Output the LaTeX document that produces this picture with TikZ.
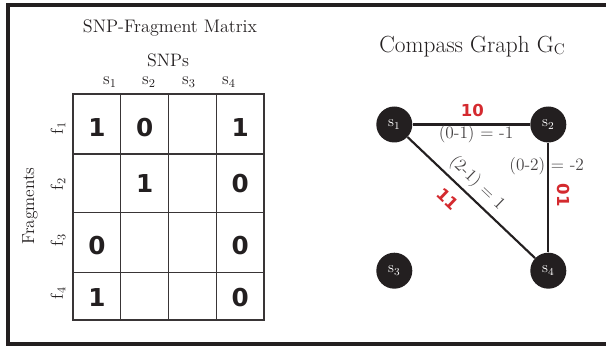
\documentclass[tikz,border=0pt]{standalone}
\usepackage{fontspec}
\newfontfamily\digitfont{DejaVu Sans}
\definecolor{ink}{HTML}{231F20}
\definecolor{labred}{HTML}{D42A2F}
\begin{document}
\begin{tikzpicture}[x=0.75pt,y=-0.75pt,
  ttl/.style={font=\fontsize{13}{15}\selectfont, text=ink, inner sep=0pt},
  bigttl/.style={font=\fontsize{17.5}{20}\selectfont, text=ink, inner sep=0pt},
  cellnum/.style={font=\digitfont\bfseries\fontsize{18.5}{20}\selectfont, text=ink, inner sep=0pt},
  vert/.style={circle, fill=ink, minimum size=36*0.75pt, inner sep=0pt, text=white, font=\fontsize{11.5}{12}\selectfont},
  link/.style={draw=ink, line width=1.6pt},
  gridline/.style={draw=ink!90, line width=1pt},
  redlab/.style={font=\digitfont\bfseries\fontsize{12.4}{14}\selectfont, text=labred, inner sep=0pt},
  wlab/.style={font=\fontsize{13}{15}\selectfont, text=ink!85, inner sep=0pt}]
\useasboundingbox (0,0) rectangle (606,349);
\clip (0,0) rectangle (606,349);
% frame
\draw[ink, line width=3pt] (8,5.5) rectangle (620,343.5);
% ---------- matrix ----------
\node[ttl, font=\fontsize{13.6}{15}\selectfont] (mtitle) at (170,28) {SNP-Fragment Matrix};
\node[ttl, font=\fontsize{13.5}{15}\selectfont] (snps) at (168,60) {SNPs};
\node[ttl] (cs1) at (110,82) {s$_1$};
\node[ttl] (cs2) at (149,82) {s$_2$};
\node[ttl] (cs3) at (189,82) {s$_3$};
\node[ttl] (cs4) at (229,82) {s$_4$};
\node[ttl, rotate=90] (frag) at (30,206) {Fragments};
\node[ttl, rotate=90] (rf1) at (58,128) {f$_1$};
\node[ttl, rotate=90] (rf2) at (58,184) {f$_2$};
\node[ttl, rotate=90] (rf3) at (58,240) {f$_3$};
\node[ttl, rotate=90] (rf4) at (58,293) {f$_4$};
\draw[gridline] (73,94) rectangle (264,320);
\draw[gridline] (120.7,94) -- (120.7,320) (168.7,94) -- (168.7,320) (216.3,94) -- (216.3,320);
\draw[gridline] (73,154) -- (264,154) (73,212.3) -- (264,212.3) (73,272.7) -- (264,272.7);
\node[cellnum] (m11) at (96.9,128) {1};
\node[cellnum] (m12) at (144.7,128) {0};
\node[cellnum] (m14) at (240.2,128) {1};
\node[cellnum] (m22) at (144.7,183.5) {1};
\node[cellnum] (m24) at (240.2,183.5) {0};
\node[cellnum] (m31) at (96.9,246) {0};
\node[cellnum] (m34) at (240.2,246) {0};
\node[cellnum] (m41) at (96.9,298) {1};
\node[cellnum] (m44) at (240.2,298) {0};
% ---------- compass graph ----------
\node[bigttl] (gtitle) at (472,47) {Compass Graph G\raisebox{-1.5pt}{\fontsize{11.5}{12}\selectfont C}};
\node[vert] (s1) at (394.3,124.5) {s$_1$};
\node[vert] (s2) at (548.3,124.5) {s$_2$};
\node[vert] (s3) at (394.3,270.7) {s$_3$};
\node[vert] (s4) at (548.3,270.7) {s$_4$};
\draw[link] (s1) -- (s2);
\draw[link] (s2) -- (s4);
\draw[link] (s1) -- (s4);
\node[redlab] (l10) at (472.3,110) {10};
\node[wlab] (w12) at (476,134) {(0-1) = -1};
\node[wlab] (w24) at (546.7,166) {(0-2) = -2};
\node[redlab, rotate=-90] (l01) at (563.5,195) {01};
\node[redlab, rotate=-43.7] (l11) at (448,199) {11};
\node[wlab, rotate=-43.7] (w14) at (477,183) {(2-1) = 1};
\end{tikzpicture}
\end{document}
